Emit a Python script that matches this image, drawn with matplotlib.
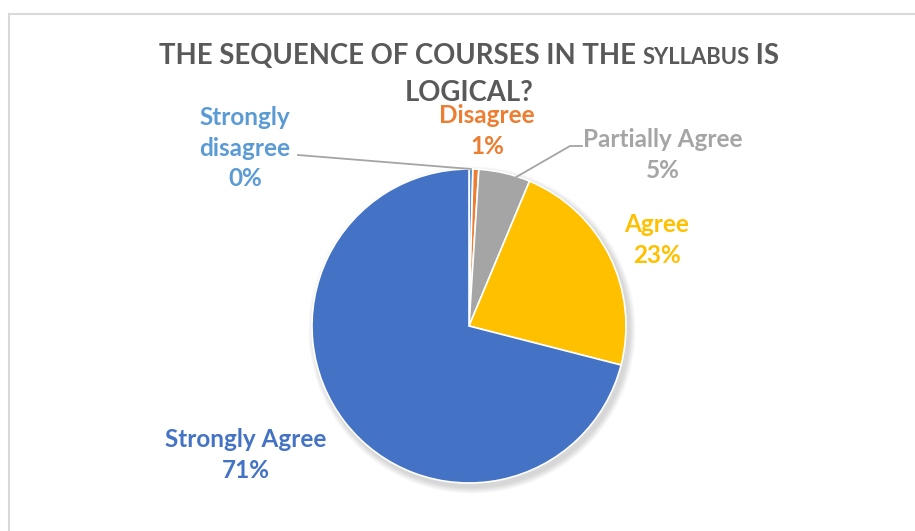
import numpy as np
import matplotlib
matplotlib.use("Agg")
import matplotlib.pyplot as plt
from matplotlib.patches import Circle

# survey answers, percent of respondents
categories = ["Strongly disagree", "Disagree", "Partially Agree", "Agree", "Strongly Agree"]
values = [0.4, 0.6, 5.3, 22.7, 71.0]
colors = ["#5B9BD5", "#ED7D31", "#A5A5A5", "#FFC000", "#4472C4"]
label_text = ["Strongly\ndisagree", "Disagree", "Partially Agree", "Agree", "Strongly Agree"]

W, H = 915, 531
plt.rcParams['font.family'] = ['Lato', 'DejaVu Sans']

fig = plt.figure(figsize=(W / 100, H / 100), dpi=100)
ax = fig.add_axes([0, 0, 1, 1])

cx, cy, r = 469, H - 326, 157

# soft shadow
for k in range(8):
    ax.add_patch(Circle((cx + 3, cy - 4), r + 1 + k * 0.8, color="black",
                        alpha=0.018, lw=0, zorder=1))

wedges, _ = ax.pie(values, colors=colors, startangle=90, counterclock=False,
                   center=(cx, cy), radius=r, frame=True,
                   wedgeprops=dict(edgecolor="white", linewidth=1.2, zorder=2))
ax.set_xlim(0, W)
ax.set_ylim(0, H)
ax.set_aspect('equal')
ax.axis('off')

# border (only top and left visible)
ax.plot([8.5, 8.5], [0, H - 13.5], color="#D9D9D9", lw=1.5, zorder=0)
ax.plot([8.5, W], [H - 13.5, H - 13.5], color="#D9D9D9", lw=1.5, zorder=0)

# label positions (pixel coords, top-left origin)
label_pos = [(245, 148), (487, 131), (663, 155), (657, 240), (246, 455)]
for i, (txt, v) in enumerate(zip(label_text, values)):
    x, y = label_pos[i]
    ax.text(x, H - y, f"{txt}\n{v:.0f}%", color=colors[i], fontsize=17.5,
            fontweight='bold', ha='center', va='center', linespacing=1.4, zorder=5)

# leader lines for the thin top slices
def edge_point(w, frac=1.0):
    th = np.deg2rad((w.theta1 + w.theta2) / 2)
    return cx + r * frac * np.cos(th), cy + r * frac * np.sin(th)

px, py = edge_point(wedges[0])
ax.plot([298, px], [H - 155, py], color="#A5A5A5", lw=1.3, zorder=4)
px, py = edge_point(wedges[2], 0.92)
ax.plot([582, 570, px], [H - 146, H - 146, py], color="#A5A5A5", lw=1.3, zorder=4)

# title with small-caps "syllabus"
fig.canvas.draw()
rend = fig.canvas.get_renderer()
tcol = "#595959"
big, small = 19.8, 15.8
parts = [("THE SEQUENCE OF COURSES IN THE ", big), ("SYLLABUS", small), (" IS", big)]
tx = []
for s, fs in parts:
    t = ax.text(0, H - 64, s, fontsize=fs, fontweight='bold', color=tcol,
                ha='left', va='baseline')
    tx.append(t)
widths = [t.get_window_extent(rend).width for t in tx]
x0 = 469 - sum(widths) / 2
for t, w in zip(tx, widths):
    t.set_x(x0)
    x0 += w
ax.text(469, H - 101, "LOGICAL?", fontsize=big, fontweight='bold', color=tcol,
        ha='center', va='baseline')

fig.savefig("out.png", dpi=100)
